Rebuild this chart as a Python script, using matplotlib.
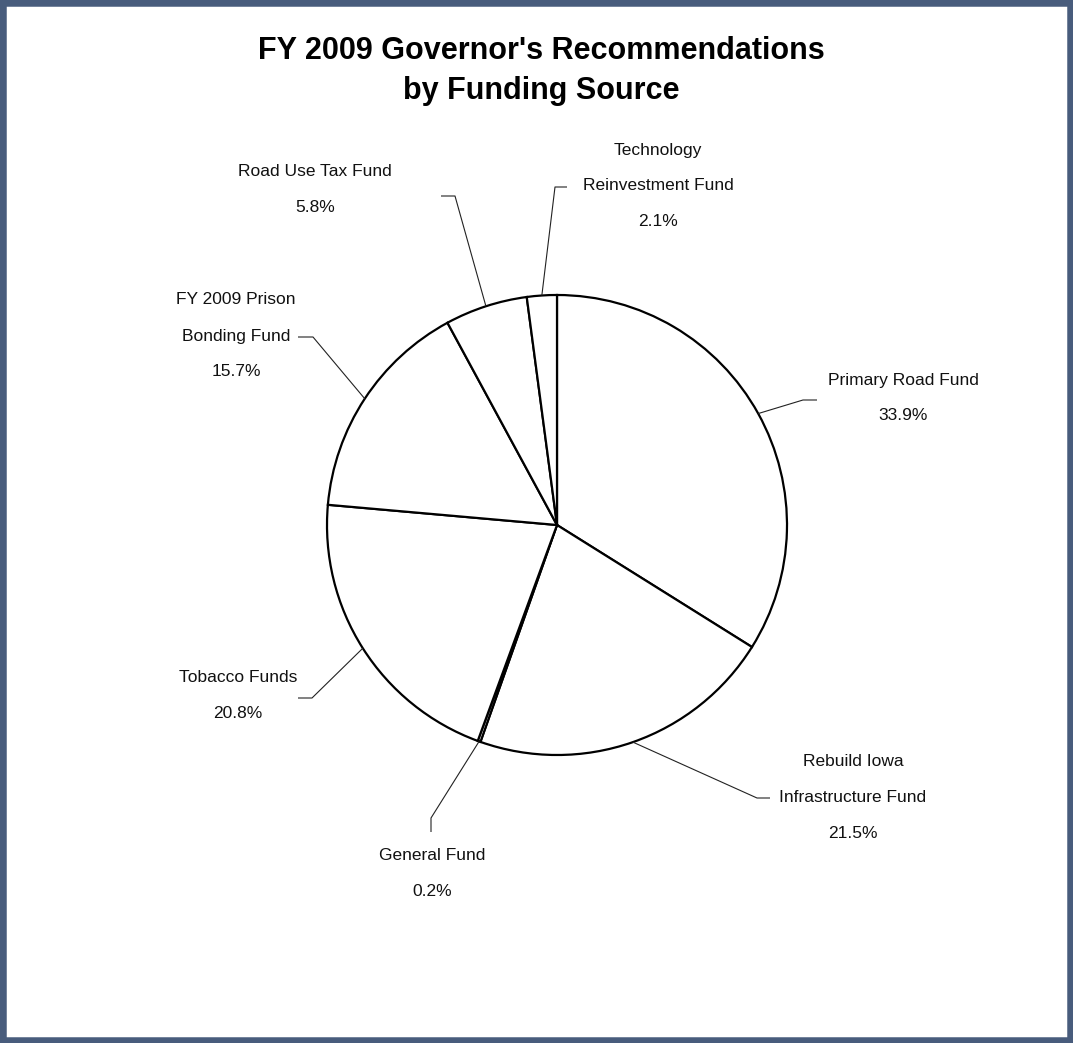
import numpy as np
import matplotlib
matplotlib.use("Agg")
import matplotlib.pyplot as plt
from matplotlib.patches import Rectangle

W, H = 1073, 1043

TITLE = "FY 2009 Governor's Recommendations\nby Funding Source"
SOURCES = [
    "Primary Road Fund",
    "Rebuild Iowa\nInfrastructure Fund",
    "General Fund",
    "Tobacco Funds",
    "FY 2009 Prison\nBonding Fund",
    "Road Use Tax Fund",
    "Technology\nReinvestment Fund",
]
SHARES = [33.9, 21.5, 0.2, 20.8, 15.7, 5.8, 2.1]

# label layout in pixel coords: text centre (x, y of first line), leader elbow, leader end
LABEL_POS = [(903, 380), (853, 762), (432, 855), (238, 678), (236, 300), (315, 172), (658, 150)]
ELBOWS = [(803, 400), (757, 798), (431, 818), (312, 698), (313, 337), (455, 196), (555, 187)]
ENDS = [(817, 400), (770, 798), (431, 832), (298, 698), (298, 337), (441, 196), (567, 187)]

CENTER = (557, 525)
RADIUS = 230
LABEL_FONT = ["Liberation Sans Narrow", "Liberation Sans", "DejaVu Sans"]
LINE_STEP = 36


def px(x, y):
    return x, H - y


fig = plt.figure(figsize=(W / 100, H / 100), dpi=100)
fig.patches.append(Rectangle((0, 0), 1, 1, transform=fig.transFigure, facecolor="white",
                             edgecolor="#485c7c", linewidth=9, zorder=-10))

ax = fig.add_axes([0, 0, 1, 1])
ax.patch.set_alpha(0)

wedges, _ = ax.pie(
    SHARES,
    startangle=90,
    counterclock=False,
    center=px(*CENTER),
    radius=RADIUS,
    colors=["white"] * len(SHARES),
    wedgeprops={"edgecolor": "black", "linewidth": 1.6},
    frame=True,
)
ax.set_xlim(0, W)
ax.set_ylim(0, H)
ax.set_aspect("equal")
ax.axis("off")

for wedge, name, share, pos, elbow, end in zip(wedges, SOURCES, SHARES, LABEL_POS, ELBOWS, ENDS):
    mid = np.deg2rad((wedge.theta1 + wedge.theta2) / 2)
    cx, cy = px(*CENTER)
    start = (cx + RADIUS * np.cos(mid), cy + RADIUS * np.sin(mid))
    xs = [start[0], px(*elbow)[0], px(*end)[0]]
    ys = [start[1], px(*elbow)[1], px(*end)[1]]
    ax.plot(xs, ys, color="#222222", linewidth=0.8, solid_capstyle="butt")
    lines = name.split("\n") + [f"{share:.1f}%"]
    for i, line in enumerate(lines):
        ax.text(*px(pos[0], pos[1] + i * LINE_STEP), line, ha="center", va="center",
                fontsize=12.5, family=LABEL_FONT, color="#111111")

fig.text(541 / W, 1 - 71 / H, TITLE, ha="center", va="center", fontsize=22, fontweight="bold",
         family=["Liberation Sans", "DejaVu Sans"], linespacing=1.45)

fig.savefig("out.png", dpi=100)
